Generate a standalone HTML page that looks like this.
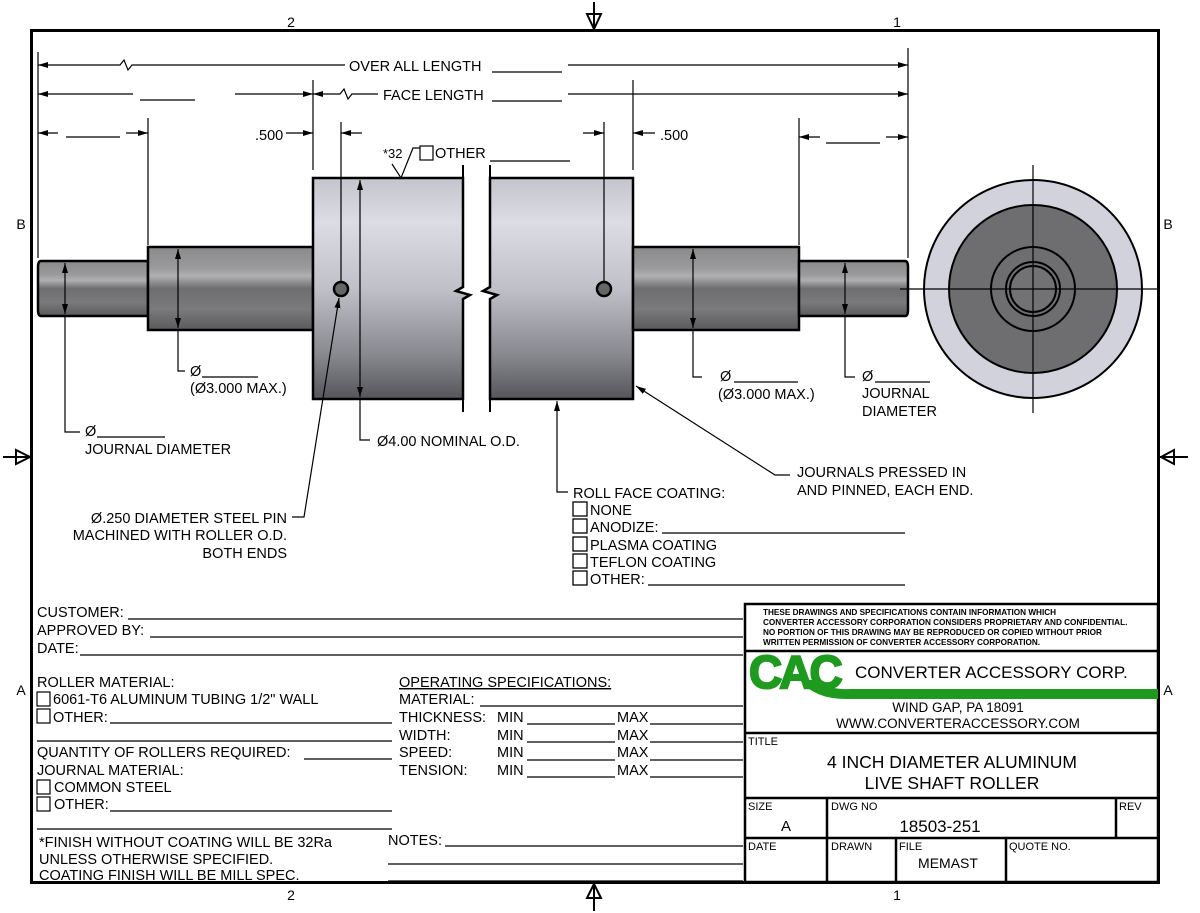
<!DOCTYPE html>
<html><head><meta charset="utf-8"><style>
html,body{margin:0;padding:0;background:#fff;}
svg{display:block;font-family:"Liberation Sans",Arial,sans-serif;}
text{fill:#000;}
</style></head><body>
<svg width="1200" height="913" viewBox="0 0 1200 913" xmlns="http://www.w3.org/2000/svg">
<defs>
<linearGradient id="shaft" x1="0" y1="0" x2="0" y2="1">
<stop offset="0" stop-color="#8a8a8c"/><stop offset="0.25" stop-color="#9a9a9c"/><stop offset="0.35" stop-color="#b0b0b2"/><stop offset="0.5" stop-color="#6e6e70"/><stop offset="0.75" stop-color="#7a7a7c"/><stop offset="1" stop-color="#5a5a5c"/>
</linearGradient>
<linearGradient id="body" x1="0" y1="0" x2="0" y2="1">
<stop offset="0" stop-color="#c4c4cc"/><stop offset="0.2" stop-color="#dcdce4"/><stop offset="0.5" stop-color="#c0c0c8"/><stop offset="0.8" stop-color="#88888f"/><stop offset="1" stop-color="#55555b"/>
</linearGradient>
<marker id="ar" viewBox="0 0 10 6" refX="10" refY="3" markerWidth="10" markerHeight="6" orient="auto-start-reverse" markerUnits="userSpaceOnUse"><path d="M0,0 L10,3 L0,6 z" fill="#000"/></marker>
</defs>

<rect x="31.5" y="30.5" width="1127" height="852" fill="none" stroke="#000" stroke-width="3"/>
<text x="291" y="27" font-size="14" text-anchor="middle">2</text>
<text x="897" y="27" font-size="14" text-anchor="middle">1</text>
<text x="291" y="900" font-size="14" text-anchor="middle">2</text>
<text x="897" y="900" font-size="14" text-anchor="middle">1</text>
<text x="21" y="229" font-size="14" text-anchor="middle">B</text>
<text x="1168" y="229" font-size="14" text-anchor="middle">B</text>
<text x="21" y="695" font-size="14" text-anchor="middle">A</text>
<text x="1168" y="695" font-size="14" text-anchor="middle">A</text>
<g stroke="#000" stroke-width="2" fill="none">
<line x1="594" y1="2" x2="594" y2="30"/><path d="M587,14 L601,14 L594,29 Z"/>
<line x1="594" y1="883" x2="594" y2="911"/><path d="M587,898 L601,898 L594,884 Z"/>
<line x1="3" y1="457" x2="31" y2="457"/><path d="M16,450 L16,464 L30,457 Z"/>
<line x1="1160" y1="457" x2="1188" y2="457"/><path d="M1174,450 L1174,464 L1161,457 Z"/>
</g>

<g stroke="#000" stroke-width="2.5">
<path d="M41,261 L148,261 L148,316 L41,316 Q38,316 38,310 L38,267 Q38,261 41,261 Z" fill="url(#shaft)"/>
<rect x="148" y="247" width="165" height="83" fill="url(#shaft)"/>
<path d="M313,178 L463,178 L463,287 L456,291 L470,295 L463,299 L463,399 L313,399 Z" fill="url(#body)"/>
<path d="M490,178 L633,178 L633,399 L490,399 L490,299 L497,295 L483,291 L490,287 Z" fill="url(#body)"/>
<rect x="633" y="247" width="166" height="83" fill="url(#shaft)"/>
<path d="M799,261 L905,261 Q908,261 908,267 L908,310 Q908,316 905,316 L799,316 Z" fill="url(#shaft)"/>
<circle cx="341" cy="289" r="7" fill="#666"/>
<circle cx="604" cy="289" r="7" fill="#666"/>
</g>
<g stroke="#000" stroke-width="2">
<line x1="463" y1="165" x2="463" y2="178"/><line x1="463" y1="399" x2="463" y2="412"/>
<line x1="490" y1="165" x2="490" y2="178"/><line x1="490" y1="399" x2="490" y2="412"/>
</g>

<g stroke="#000" stroke-width="2">
<circle cx="1033" cy="289" r="109" fill="#d2d2dc"/>
<circle cx="1033" cy="289" r="84" fill="#6e6e70"/>
<circle cx="1033" cy="289" r="42" fill="#6e6e70"/>
<circle cx="1033" cy="289" r="27" fill="#707072"/>
<circle cx="1033" cy="289" r="23" fill="#727274"/>
</g>
<g stroke="#000" stroke-width="1.2">
<line x1="900" y1="289" x2="1158" y2="289"/>
<line x1="1033" y1="165" x2="1033" y2="413"/>
</g>

<g stroke="#000" stroke-width="1.2" fill="none">
<line x1="38" y1="52" x2="38" y2="258"/>
<line x1="908" y1="48" x2="908" y2="258"/>
<line x1="148" y1="118" x2="148" y2="245"/>
<line x1="799" y1="118" x2="799" y2="245"/>
<line x1="313" y1="80" x2="313" y2="170"/>
<line x1="633" y1="80" x2="633" y2="170"/>
<line x1="341" y1="122" x2="341" y2="282"/>
<line x1="604" y1="122" x2="604" y2="282"/>
<path d="M38,65 L120,65 L124,60 L128,70 L132,65 L345,65" marker-start="url(#ar)"/>
<line x1="568" y1="65" x2="908" y2="65" marker-end="url(#ar)"/>
<line x1="492" y1="72" x2="562" y2="72"/>
<line x1="38" y1="94" x2="133" y2="94" marker-start="url(#ar)"/>
<line x1="140" y1="100" x2="195" y2="100"/>
<line x1="235" y1="94" x2="313" y2="94" marker-end="url(#ar)"/>
<path d="M313,94 L340,94 L344,89 L348,99 L352,94 L378,94" marker-start="url(#ar)"/>
<line x1="492" y1="101" x2="562" y2="101"/>
<line x1="568" y1="94" x2="908" y2="94" marker-end="url(#ar)"/>
<line x1="38" y1="133" x2="58" y2="133" marker-start="url(#ar)"/>
<line x1="66" y1="137" x2="120" y2="137"/>
<line x1="126" y1="133" x2="148" y2="133" marker-end="url(#ar)"/>
<line x1="286" y1="133" x2="313" y2="133" marker-end="url(#ar)"/>
<line x1="341" y1="133" x2="362" y2="133" marker-start="url(#ar)"/>
<line x1="583" y1="133" x2="604" y2="133" marker-end="url(#ar)"/>
<line x1="633" y1="133" x2="655" y2="133" marker-start="url(#ar)"/>
<line x1="799" y1="137" x2="820" y2="137" marker-start="url(#ar)"/>
<line x1="826" y1="143" x2="880" y2="143"/>
<line x1="886" y1="137" x2="908" y2="137" marker-end="url(#ar)"/>
<line x1="65" y1="263" x2="65" y2="314" marker-start="url(#ar)" marker-end="url(#ar)"/>
<line x1="178" y1="249" x2="178" y2="328" marker-start="url(#ar)" marker-end="url(#ar)"/>
<line x1="360" y1="180" x2="360" y2="397" marker-start="url(#ar)" marker-end="url(#ar)"/>
<line x1="693" y1="249" x2="693" y2="328" marker-start="url(#ar)" marker-end="url(#ar)"/>
<line x1="845" y1="263" x2="845" y2="314" marker-start="url(#ar)" marker-end="url(#ar)"/>
<path d="M65,316 L65,432 L80,432"/>
<path d="M178,330 L178,371 L185,371"/>
<path d="M693,330 L693,377 L702,377"/>
<path d="M845,316 L845,377 L855,377"/>
<path d="M360,399 L360,440 L370,440"/>
<path d="M568,492 L557,492 L557,401" marker-end="url(#ar)"/>
<path d="M790,475 L775,475 L636,386" marker-end="url(#ar)"/>
<path d="M292,517 L304,517 L339,298" marker-end="url(#ar)"/>
<path d="M392,164 L401,178 L413,148 L420,148"/>
<rect x="420" y="146" width="13" height="14"/>
<line x1="490" y1="161" x2="570" y2="161"/>
<line x1="97" y1="437" x2="165" y2="437"/>
<line x1="202" y1="377" x2="258" y2="377"/>
<line x1="734" y1="382" x2="798" y2="382"/>
<line x1="875" y1="382" x2="930" y2="382"/>
</g>

<g font-size="14.5">
<text x="349" y="71">OVER ALL LENGTH</text>
<text x="383" y="100">FACE LENGTH</text>
<text x="255" y="140">.500</text>
<text x="660" y="140">.500</text>
<text x="383" y="158" font-size="13">*32</text>
<text x="435" y="158">OTHER</text>
<text x="190" y="376">Ø</text>
<text x="190" y="393">(Ø3.000 MAX.)</text>
<text x="85" y="436">Ø</text>
<text x="85" y="454">JOURNAL DIAMETER</text>
<text x="377" y="446">Ø4.00 NOMINAL O.D.</text>
<text x="720" y="381">Ø</text>
<text x="718" y="399">(Ø3.000 MAX.)</text>
<text x="862" y="381">Ø</text>
<text x="862" y="398">JOURNAL</text>
<text x="862" y="416">DIAMETER</text>
<text x="797" y="477">JOURNALS PRESSED IN</text>
<text x="797" y="495">AND PINNED, EACH END.</text>
<text x="287" y="523" text-anchor="end">Ø.250 DIAMETER STEEL PIN</text>
<text x="287" y="540" text-anchor="end">MACHINED WITH ROLLER O.D.</text>
<text x="287" y="558" text-anchor="end">BOTH ENDS</text>
<text x="573" y="498">ROLL FACE COATING:</text>
<text x="590" y="515">NONE</text>
<text x="590" y="532">ANODIZE:</text>
<text x="590" y="550">PLASMA COATING</text>
<text x="590" y="567">TEFLON COATING</text>
<text x="590" y="584">OTHER:</text>
</g>
<g stroke="#000" stroke-width="1.3" fill="none">
<rect x="573" y="502" width="14" height="14"/>
<rect x="573" y="519" width="14" height="14"/>
<rect x="573" y="537" width="14" height="14"/>
<rect x="573" y="554" width="14" height="14"/>
<rect x="573" y="571" width="14" height="14"/>
<line x1="662" y1="533" x2="905" y2="533"/>
<line x1="648" y1="585" x2="905" y2="585"/>
</g>

<g font-size="14.5">
<text x="37" y="617">CUSTOMER:</text>
<text x="37" y="635">APPROVED BY:</text>
<text x="37" y="653">DATE:</text>
<text x="37" y="687">ROLLER MATERIAL:</text>
<text x="53" y="704">6061-T6 ALUMINUM TUBING 1/2" WALL</text>
<text x="53" y="722">OTHER:</text>
<text x="37" y="757">QUANTITY OF ROLLERS REQUIRED:</text>
<text x="37" y="775">JOURNAL MATERIAL:</text>
<text x="54" y="792">COMMON STEEL</text>
<text x="54" y="809">OTHER:</text>
<text x="39" y="847">*FINISH WITHOUT COATING WILL BE 32Ra</text>
<text x="39" y="864">UNLESS OTHERWISE SPECIFIED.</text>
<text x="39" y="880">COATING FINISH WILL BE MILL SPEC.</text>
<text x="399" y="687" text-decoration="underline">OPERATING SPECIFICATIONS:</text>
<text x="399" y="704">MATERIAL:</text>
<text x="399" y="722">THICKNESS:</text>
<text x="399" y="740">WIDTH:</text>
<text x="399" y="757">SPEED:</text>
<text x="399" y="775">TENSION:</text>
<text x="497" y="722">MIN</text><text x="617" y="722">MAX</text>
<text x="497" y="740">MIN</text><text x="617" y="740">MAX</text>
<text x="497" y="757">MIN</text><text x="617" y="757">MAX</text>
<text x="497" y="775">MIN</text><text x="617" y="775">MAX</text>
<text x="388" y="845">NOTES:</text>
</g>
<g stroke="#000" stroke-width="1.2" fill="none">
<line x1="128" y1="619" x2="743" y2="619"/>
<line x1="150" y1="637" x2="743" y2="637"/>
<line x1="80" y1="655" x2="743" y2="655"/>
<rect x="37" y="692" width="13" height="14"/>
<rect x="37" y="709" width="13" height="14"/>
<line x1="110" y1="723" x2="392" y2="723"/>
<line x1="37" y1="741" x2="392" y2="741"/>
<line x1="304" y1="759" x2="392" y2="759"/>
<rect x="37" y="780" width="13" height="14"/>
<rect x="37" y="797" width="13" height="14"/>
<line x1="110" y1="811" x2="392" y2="811"/>
<line x1="37" y1="829" x2="392" y2="829"/>
<line x1="480" y1="706" x2="743" y2="706"/>
<line x1="527" y1="724" x2="615" y2="724"/><line x1="650" y1="724" x2="743" y2="724"/>
<line x1="527" y1="742" x2="615" y2="742"/><line x1="650" y1="742" x2="743" y2="742"/>
<line x1="527" y1="760" x2="615" y2="760"/><line x1="650" y1="760" x2="743" y2="760"/>
<line x1="527" y1="777" x2="615" y2="777"/><line x1="650" y1="777" x2="743" y2="777"/>
<line x1="445" y1="846" x2="743" y2="846"/>
<line x1="388" y1="864" x2="743" y2="864"/>
<line x1="388" y1="881" x2="743" y2="881"/>
</g>

<g stroke="#000" stroke-width="2.5" fill="none">
<rect x="745" y="604" width="413" height="278"/>
<line x1="745" y1="651" x2="1158" y2="651"/>
<line x1="745" y1="733" x2="1158" y2="733"/>
<line x1="745" y1="798" x2="1158" y2="798"/>
<line x1="745" y1="838" x2="1158" y2="838"/>
<line x1="827" y1="798" x2="827" y2="882"/>
<line x1="1116" y1="798" x2="1116" y2="838"/>
<line x1="896" y1="838" x2="896" y2="882"/>
<line x1="1006" y1="838" x2="1006" y2="882"/>
</g>
<g font-size="8.2" font-weight="bold">
<text x="763" y="615">THESE DRAWINGS AND SPECIFICATIONS CONTAIN INFORMATION WHICH</text>
<text x="763" y="625">CONVERTER ACCESSORY CORPORATION CONSIDERS PROPRIETARY AND CONFIDENTIAL.</text>
<text x="763" y="635">NO PORTION OF THIS DRAWING MAY BE REPRODUCED OR COPIED WITHOUT PRIOR</text>
<text x="763" y="645">WRITTEN PERMISSION OF CONVERTER ACCESSORY CORPORATION.</text>
</g>
<g fill="#1e9a1e">
<path d="M800,680 Q815,700 850,699 L1158,699 L1158,689 L850,689 Q828,690 815,680 Z"/>
<text x="749" y="688" font-size="46" font-weight="900" style="fill:#1e9a1e" letter-spacing="-3" stroke="#1e9a1e" stroke-width="2">CAC</text>
</g>
<text x="855" y="678" font-size="17">CONVERTER ACCESSORY CORP.</text>
<text x="958" y="712" font-size="13.5" text-anchor="middle">WIND GAP, PA 18091</text>
<text x="958" y="728" font-size="13.5" text-anchor="middle">WWW.CONVERTERACCESSORY.COM</text>
<text x="748" y="745" font-size="11">TITLE</text>
<text x="952" y="768" font-size="17.5" text-anchor="middle">4 INCH DIAMETER ALUMINUM</text>
<text x="952" y="789" font-size="17.5" text-anchor="middle">LIVE SHAFT ROLLER</text>
<text x="748" y="810" font-size="11">SIZE</text>
<text x="831" y="810" font-size="11">DWG NO</text>
<text x="1119" y="810" font-size="11">REV</text>
<text x="786" y="831" font-size="15" text-anchor="middle">A</text>
<text x="940" y="832" font-size="17" text-anchor="middle">18503-251</text>
<text x="748" y="850" font-size="11">DATE</text>
<text x="831" y="850" font-size="11">DRAWN</text>
<text x="899" y="850" font-size="11">FILE</text>
<text x="1009" y="850" font-size="11">QUOTE NO.</text>
<text x="948" y="868" font-size="14" text-anchor="middle">MEMAST</text>
</svg>
</body></html>
